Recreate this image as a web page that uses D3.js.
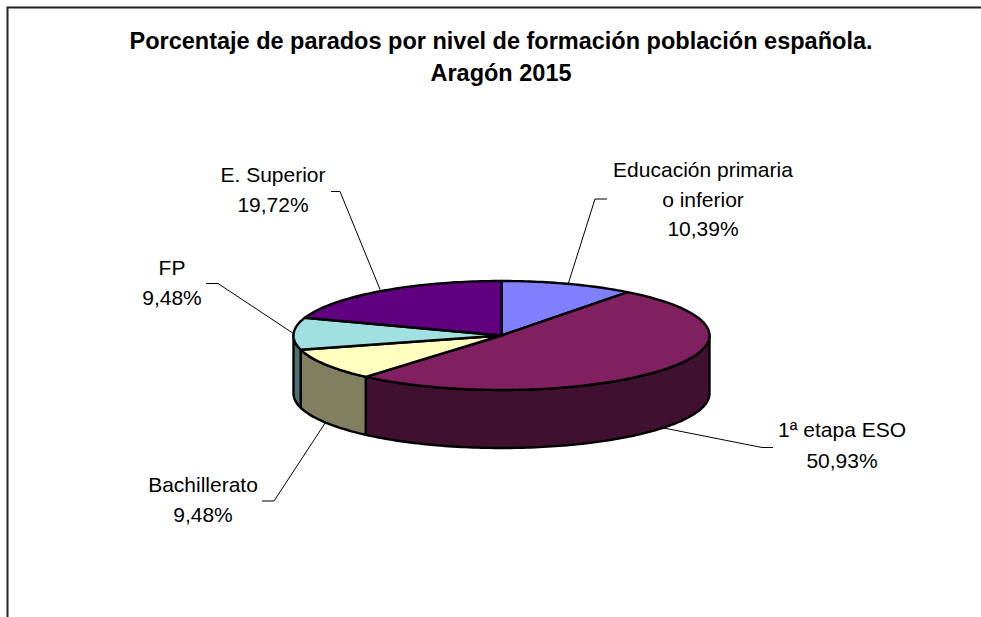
<!DOCTYPE html>
<html>
<head>
<meta charset="utf-8">
<script src="https://cdn.jsdelivr.net/npm/d3@7"></script>
<style>
    html, body { margin: 0; padding: 0; background: #fff; }
    svg { display: block; }
    text { font-family: "Liberation Sans", Arial, sans-serif; fill: #000; text-anchor: middle; }
</style>
</head>
<body>
<svg id="chart"></svg>
<script>
    // data
    var categories = ["Educación primaria o inferior", "1ª etapa ESO", "Bachillerato", "FP", "E. Superior"];
    var values = [10.39, 50.93, 9.48, 9.48, 19.72];
    var valueLabels = ["10,39%", "50,93%", "9,48%", "9,48%", "19,72%"];
    var titleLines = ["Porcentaje de parados por nivel de formación población española.", "Aragón 2015"];

    // looks
    var topColors = ["#8080ff", "#802060", "#ffffc0", "#a0e0e0", "#600080"];
    var sideColors = ["#404080", "#401030", "#808060", "#507070", "#300040"];

    // label placement, same order as categories
    var labelLayout = [
        { lines: ["Educación primaria", "o inferior"], x: 703, y: 177, step: 29.5, elbow: [595, 199], end: 607 },
        { lines: ["1ª etapa ESO"], x: 842, y: 437, step: 31, elbow: [762, 447.5], end: 773 },
        { lines: ["Bachillerato"], x: 203, y: 492, step: 30, elbow: [274, 501], end: 262 },
        { lines: ["FP"], x: 172, y: 275, step: 30, elbow: [218, 283.5], end: 206 },
        { lines: ["E. Superior"], x: 273, y: 182, step: 30, elbow: [340, 191.5], end: 331 }
    ];

    var width = 981, height = 617;
    var cx = 501.5, cy = 335.5, rx = 208, ry = 54.5, depth = 58;
    var labelSize = 21, titleSize = 23.5;

    var svg = d3.select("#chart").attr("width", width).attr("height", height);

    // chart frame, only top and left are visible
    svg.append("path")
        .attr("d", "M7.5,617V7.5H981")
        .attr("fill", "none")
        .attr("stroke", "#222")
        .attr("stroke-width", 2);

    titleLines.forEach(function (t, i) {
        svg.append("text")
            .attr("x", 501)
            .attr("y", 49 + i * 32)
            .attr("font-size", titleSize)
            .attr("font-weight", "bold")
            .text(t);
    });

    var slices = d3.pie().sort(null)(values);

    // angle is clockwise from 12 o'clock, flattened into an ellipse
    function project(a, drop) {
        return [cx + rx * Math.sin(a), cy - ry * Math.cos(a) + (drop || 0)];
    }

    var line = d3.line();

    function arcPoints(a0, a1, drop) {
        var n = Math.max(2, Math.ceil((a1 - a0) / 0.02));
        return d3.range(n + 1).map(function (i) {
            return project(a0 + (a1 - a0) * i / n, drop);
        });
    }

    // side walls, only the front half of the pie shows them
    var front = slices
        .map(function (d, i) {
            return { i: i, a0: Math.max(d.startAngle, Math.PI / 2), a1: Math.min(d.endAngle, Math.PI * 1.5) };
        })
        .filter(function (d) { return d.a1 > d.a0; });

    svg.append("g").selectAll("path")
        .data(front)
        .enter().append("path")
        .attr("d", function (d) {
            return line(arcPoints(d.a0, d.a1, 0).concat(arcPoints(d.a0, d.a1, depth).reverse())) + "Z";
        })
        .attr("fill", function (d) { return sideColors[d.i]; })
        .attr("stroke", "#000")
        .attr("stroke-width", 2.4)
        .attr("stroke-linejoin", "round");

    // top face
    svg.append("g").selectAll("path")
        .data(slices)
        .enter().append("path")
        .attr("d", function (d) {
            return line([[cx, cy]].concat(arcPoints(d.startAngle, d.endAngle, 0))) + "Z";
        })
        .attr("fill", function (d, i) { return topColors[i]; })
        .attr("stroke", "#000")
        .attr("stroke-width", 2.4)
        .attr("stroke-linejoin", "round");

    // leader lines start from the middle of each slice's outer edge
    svg.append("g").selectAll("path")
        .data(slices)
        .enter().append("path")
        .attr("d", function (d, i) {
            var mid = (d.startAngle + d.endAngle) / 2;
            var l = labelLayout[i];
            var start = project(mid, Math.cos(mid) < 0 ? depth : 0);
            return line([start, l.elbow, [l.end, l.elbow[1]]]);
        })
        .attr("fill", "none")
        .attr("stroke", "#000")
        .attr("stroke-width", 1);

    labelLayout.forEach(function (l, i) {
        l.lines.concat([valueLabels[i]]).forEach(function (t, j) {
            svg.append("text")
                .attr("x", l.x)
                .attr("y", l.y + j * l.step)
                .attr("font-size", labelSize)
                .text(t);
        });
    });
</script>
</body>
</html>
